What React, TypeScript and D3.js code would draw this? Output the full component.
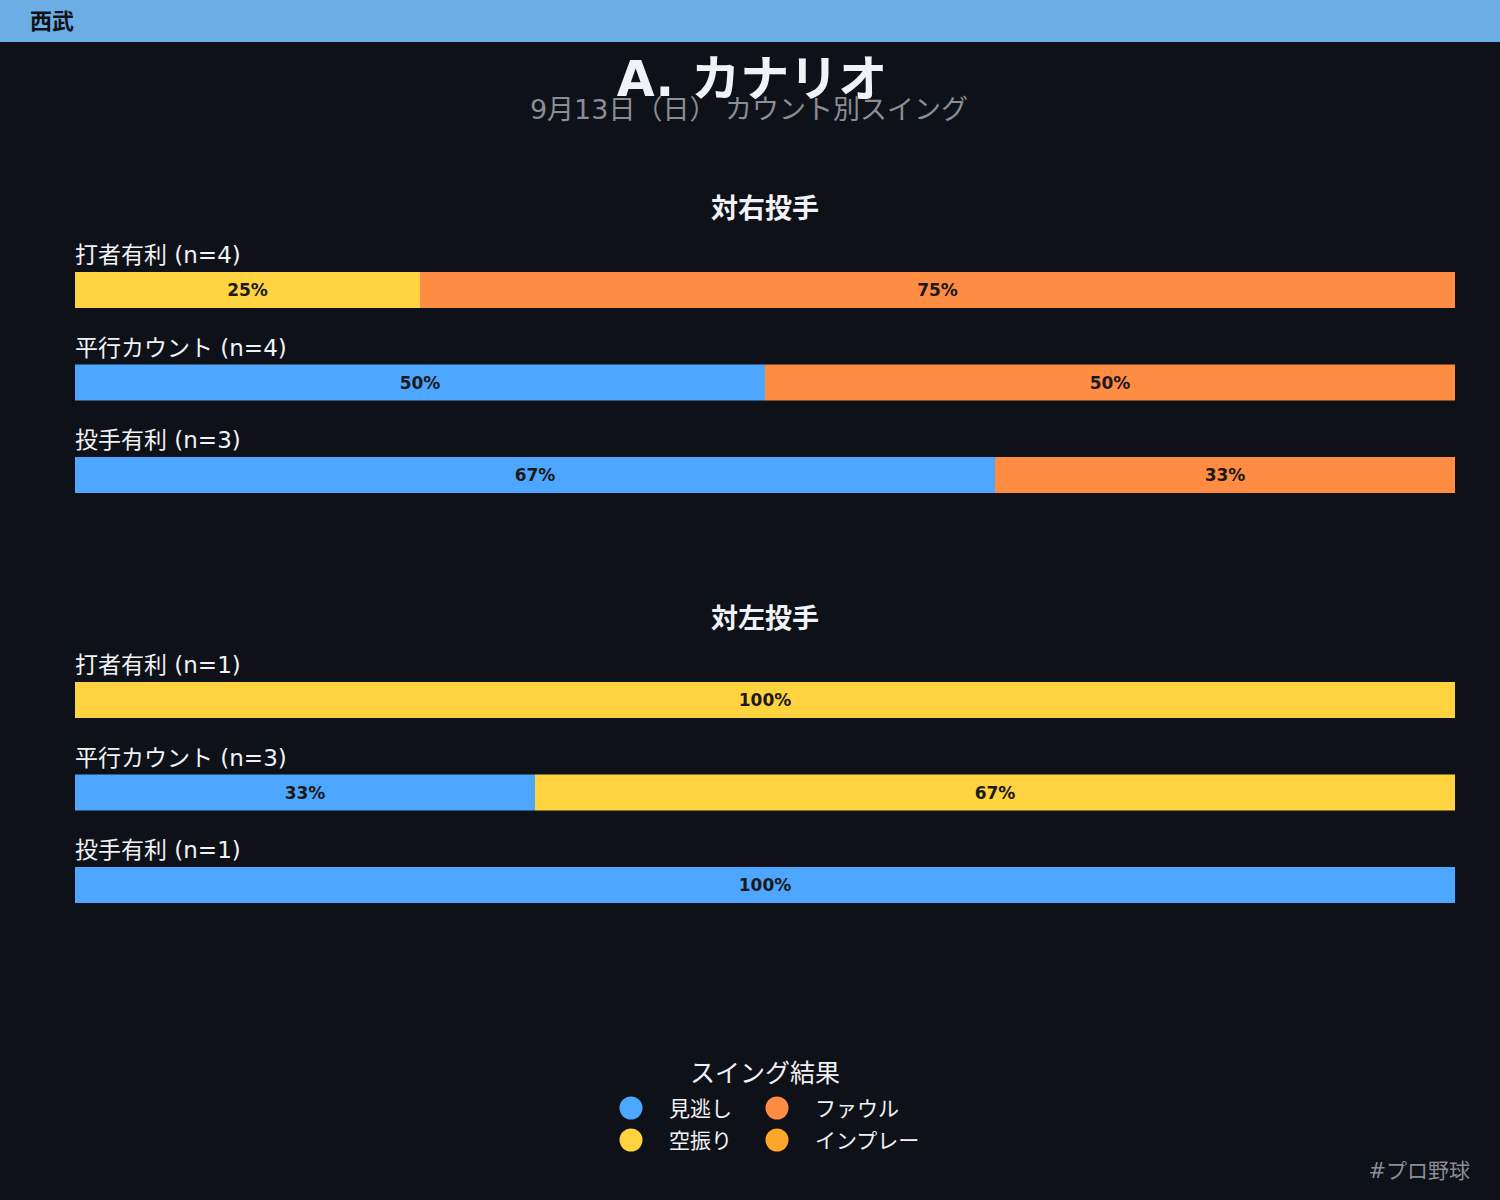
import React, { useEffect, useRef } from 'react';
import * as d3 from 'd3';

const teamName = '西武';
const playerName = 'A. カナリオ';
const subTitle = '9月13日（日） カウント別スイング';
const outcomes = ['見逃し', '空振り', 'ファウル', 'インプレー'];
const outcomeColors = ['#4da6ff', '#ffd23f', '#ff8c42', '#ffa62b'];
const countSituations = ['打者有利', '平行カウント', '投手有利'];
const sectionTitles = ['対右投手', '対左投手'];
// counts per situation, in the order of outcomes
const vsRight = [
  [0, 1, 3, 0],
  [2, 0, 2, 0],
  [2, 0, 1, 0],
];
const vsLeft = [
  [0, 1, 0, 0],
  [1, 2, 0, 0],
  [1, 0, 0, 0],
];
const footerTag = '#プロ野球';

const FONT = '"DejaVu Sans", "Noto Sans CJK JP", sans-serif';

export default function App() {
  const svgRef = useRef<SVGSVGElement>(null);

  useEffect(() => {
    document.body.style.margin = '0';
    if (!svgRef.current) return;
    const width = 1500;
    const height = 1200;
    const svg = d3.select(svgRef.current);
    svg.selectAll('*').remove();
    svg.attr('width', width).attr('height', height).style('display', 'block');

    svg.append('rect').attr('width', width).attr('height', height).attr('fill', '#0e1117');

    // header strip
    svg.append('rect').attr('width', width).attr('height', 42).attr('fill', '#6aaee3');
    svg.append('text')
      .attr('x', 30).attr('y', 29)
      .style('font-family', FONT).style('font-size', '22px').style('font-weight', 'bold')
      .attr('fill', '#0e1117')
      .text(teamName);

    svg.append('text')
      .attr('x', 752).attr('y', 96)
      .attr('text-anchor', 'middle')
      .style('font-family', FONT).style('font-size', '49px').style('font-weight', 'bold')
      .attr('fill', '#f0f2f6')
      .text(playerName);
    svg.append('text')
      .attr('x', 749).attr('y', 119)
      .attr('text-anchor', 'middle')
      .style('font-family', FONT).style('font-size', '27px')
      .attr('fill', '#8a8d93')
      .text(subTitle);

    const x = d3.scaleLinear().domain([0, 1]).range([75, 1455]);
    const sections = [vsRight, vsLeft];
    const sectionTop = [200, 610];

    sections.forEach((rows, si) => {
      const top = sectionTop[si];
      svg.append('text')
        .attr('x', 765).attr('y', top + 18)
        .attr('text-anchor', 'middle')
        .style('font-family', FONT).style('font-size', '27px').style('font-weight', 'bold')
        .attr('fill', '#f0f2f6')
        .text(sectionTitles[si]);

      const y = d3.scaleBand<string>()
        .domain(countSituations)
        .range([top + 72, top + 72 + 92.5 * 3])
        .paddingInner(0)
        .paddingOuter(0);

      rows.forEach((counts, ri) => {
        const n = d3.sum(counts);
        const rowY = y(countSituations[ri])!;
        const g = svg.append('g').attr('transform', `translate(0, ${rowY})`);
        g.append('text')
          .attr('x', 75).attr('y', -9)
          .style('font-family', FONT).style('font-size', '23px')
          .attr('fill', '#f0f2f6')
          .text(`${countSituations[ri]} (n=${n})`);

        const stacked: { start: number; end: number; i: number; v: number }[] = [];
        let acc = 0;
        counts.forEach((v, i) => {
          if (v > 0) {
            stacked.push({ start: acc / n, end: (acc + v) / n, i, v });
            acc += v;
          }
        });

        g.selectAll('rect.seg')
          .data(stacked)
          .enter()
          .append('rect')
          .attr('class', 'seg')
          .attr('x', d => x(d.start))
          .attr('y', 0)
          .attr('width', d => x(d.end) - x(d.start))
          .attr('height', 36)
          .attr('fill', d => outcomeColors[d.i]);

        g.selectAll('text.pct')
          .data(stacked)
          .enter()
          .append('text')
          .attr('class', 'pct')
          .attr('x', d => (x(d.start) + x(d.end)) / 2)
          .attr('y', 24)
          .attr('text-anchor', 'middle')
          .style('font-family', FONT).style('font-size', '17px').style('font-weight', 'bold')
          .attr('fill', '#1a1a1a')
          .text(d => `${Math.round((d.v / n) * 100)}%`);
      });
    });

    // legend
    svg.append('text')
      .attr('x', 765).attr('y', 1082)
      .attr('text-anchor', 'middle')
      .style('font-family', FONT).style('font-size', '25px')
      .attr('fill', '#f0f2f6')
      .text('スイング結果');

    const legend = svg.append('g');
    outcomes.forEach((name, i) => {
      const col = i < 2 ? 0 : 1;
      const row = i % 2;
      const cx = 631 + col * 146;
      const cy = 1108 + row * 32;
      legend.append('circle')
        .attr('cx', cx).attr('cy', cy).attr('r', 11.5)
        .attr('fill', outcomeColors[i]);
      legend.append('text')
        .attr('x', cx + 38).attr('y', cy + 8)
        .style('font-family', FONT).style('font-size', '21px')
        .attr('fill', '#f0f2f6')
        .text(name);
    });

    svg.append('text')
      .attr('x', 1470).attr('y', 1178)
      .attr('text-anchor', 'end')
      .style('font-family', FONT).style('font-size', '21px')
      .attr('fill', '#8a8d93')
      .text(footerTag);
  }, []);

  return <svg ref={svgRef}></svg>;
}
